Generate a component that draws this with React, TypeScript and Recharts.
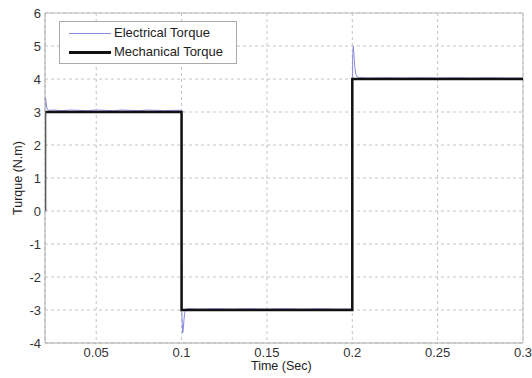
import { LineChart, Line, XAxis, YAxis, CartesianGrid, ReferenceLine } from "recharts";

// time (s) and torque (N.m)
const electricalTime = [
  0.02, 0.0203, 0.0206, 0.021, 0.0215, 0.022, 0.025, 0.03, 0.035, 0.04, 0.045, 0.05, 0.055, 0.06, 0.065, 0.07,
  0.075, 0.08, 0.085, 0.09, 0.095, 0.0998,
  0.1002, 0.1006, 0.101, 0.1014, 0.1018, 0.1024, 0.103, 0.11, 0.12, 0.13, 0.14, 0.15, 0.16, 0.17, 0.18, 0.19, 0.1998,
  0.2002, 0.2006, 0.201, 0.2015, 0.202, 0.203, 0.204, 0.21, 0.22, 0.23, 0.24, 0.25, 0.26, 0.27, 0.28, 0.29, 0.3,
];
const electricalTorque = [
  3.1, 3.45, 3.3, 3.15, 3.08, 3.05, 3.06, 3.04, 3.06, 3.05, 3.04, 3.06, 3.05, 3.04, 3.06, 3.05,
  3.04, 3.06, 3.05, 3.04, 3.05, 3.05,
  -3.1, -3.7, -3.6, -3.3, -3.1, -3.0, -2.96, -2.97, -2.96, -2.97, -2.96, -2.97, -2.96, -2.97, -2.96, -2.97, -2.97,
  4.6, 5.0, 4.7, 4.35, 4.15, 4.06, 4.04, 4.03, 4.04, 4.03, 4.04, 4.03, 4.04, 4.03, 4.04, 4.03, 4.03,
];
const mechanicalTime = [0.02, 0.02, 0.1, 0.1, 0.2, 0.2, 0.3];
const mechanicalTorque = [0, 3, 3, -3, -3, 4, 4];

const xTicks = [0.05, 0.1, 0.15, 0.2, 0.25, 0.3];
const yTicks = [-4, -3, -2, -1, 0, 1, 2, 3, 4, 5, 6];

const electrical = electricalTime.map((t, i) => ({ t, v: electricalTorque[i] }));
const mechanical = mechanicalTime.map((t, i) => ({ t, v: mechanicalTorque[i] }));

const font = "Arial, 'Liberation Sans', sans-serif";
const tickStyle = { fontSize: 13, fill: "#333", fontFamily: font };

export default function App() {
  return (
    <div style={{ position: "absolute", left: 0, top: 0, width: 532, height: 378, background: "#fff", fontFamily: font }}>
      <LineChart width={532} height={378} margin={{ top: 13, right: 9, bottom: 0, left: 0 }}>
        <CartesianGrid stroke="#c4c4c4" strokeDasharray="3 3" />
        <XAxis
          type="number"
          dataKey="t"
          domain={[0.02, 0.3]}
          ticks={xTicks}
          allowDataOverflow
          height={35}
          tickSize={3}
          tickMargin={2}
          tickLine={false}
          stroke="#aaa"
          tick={tickStyle}
          tickFormatter={(v: number) => String(v)}
        />
        <YAxis
          type="number"
          dataKey="v"
          domain={[-4, 6]}
          ticks={yTicks}
          width={45}
          tickSize={4}
          tickMargin={0}
          tickLine={false}
          stroke="#aaa"
          tick={tickStyle}
        />
        <ReferenceLine y={6} stroke="#bbb" />
        <ReferenceLine x={0.3} stroke="#bbb" />
        <Line
          data={electrical}
          dataKey="v"
          type="linear"
          stroke="#8888dd"
          strokeWidth={1}
          dot={false}
          isAnimationActive={false}
        />
        <Line
          data={mechanical}
          dataKey="v"
          type="linear"
          stroke="#111"
          strokeWidth={2.5}
          dot={false}
          isAnimationActive={false}
        />
      </LineChart>

      {/* legend box, top-left inside the axes */}
      <div
        style={{
          position: "absolute",
          left: 59,
          top: 21,
          width: 176,
          height: 41,
          border: "1px solid #aaa",
          background: "#fff",
          fontSize: 13,
          color: "#222",
        }}
      >
        <div style={{ position: "absolute", left: 9, top: 11, width: 42, height: 1, background: "#8888dd" }} />
        <div style={{ position: "absolute", left: 54, top: 3 }}>Electrical Torque</div>
        <div style={{ position: "absolute", left: 9, top: 29, width: 42, height: 2.5, background: "#111" }} />
        <div style={{ position: "absolute", left: 54, top: 22 }}>Mechanical Torque</div>
      </div>

      <div style={{ position: "absolute", left: 251, top: 359, fontSize: 12.5, color: "#222", whiteSpace: "nowrap" }}>
        Time (Sec)
      </div>
      <div
        style={{
          position: "absolute",
          left: 18,
          top: 178,
          fontSize: 12.5,
          color: "#222",
          whiteSpace: "nowrap",
          transform: "translate(-50%, -50%) rotate(-90deg)",
        }}
      >
        Turque (N.m)
      </div>
    </div>
  );
}
